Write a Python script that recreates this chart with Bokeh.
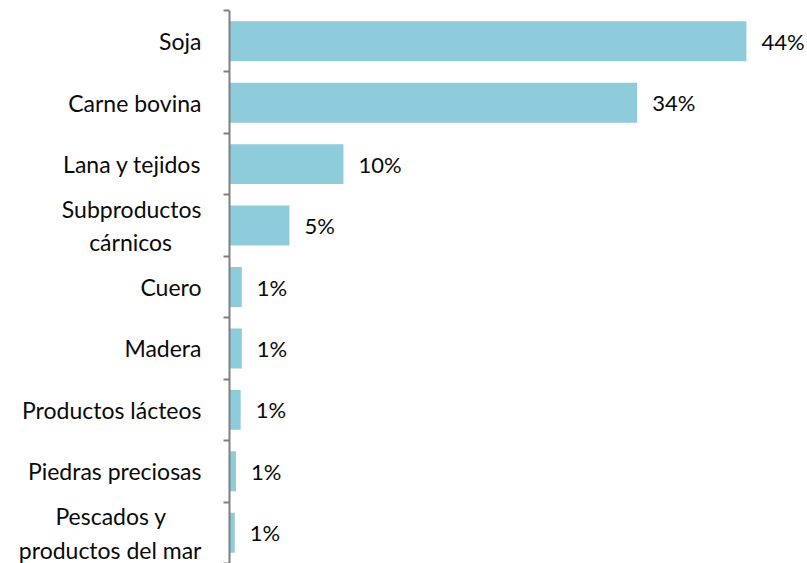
from bokeh.plotting import figure
from bokeh.models import FixedTicker, Range1d, ColumnDataSource, LabelSet
from bokeh.core.properties import value
from bokeh.embed import file_html
from bokeh.resources import INLINE

NB = "\u00a0"
categories = ["Soja", "Carne bovina", "Lana y tejidos", "Subproductos\ncárnicos" + NB * 5,
              "Cuero", "Madera", "Productos lácteos", "Piedras preciosas",
              "Pescados y" + NB * 6 + "\nproductos del mar"]
values = [44.0, 34.7, 9.7, 5.1, 1.05, 1.05, 0.95, 0.55, 0.45]
value_labels = ["44%", "34%", "10%", "5%", "1%", "1%", "1%", "1%", "1%"]

n = len(categories)
ypos = [n - i - 0.5 for i in range(n)]

FONT = "Lato"
TEXT_COLOR = "#0a0a0a"
FS = "23px"

p = figure(width=807, height=563, output_backend="svg", toolbar_location=None,
           x_range=Range1d(0, 49.2), y_range=Range1d(0, n),
           min_border_left=229, min_border_right=0, min_border_top=10, min_border_bottom=0)
p.outline_line_color = None
p.grid.visible = False
p.xaxis.visible = False

src = ColumnDataSource(dict(y=ypos, v=values, lab=value_labels))
p.hbar(y="y", left=0, right="v", height=0.65, source=src,
       fill_color="#8ECBDB", line_color=None)

labels = LabelSet(x="v", y="y", text="lab", source=src, x_offset=15,
                  text_align="left", text_baseline="middle",
                  text_font_size="22px", text_color=TEXT_COLOR, text_font=value(FONT))
p.add_layout(labels)

ax = p.yaxis[0]
ax.ticker = FixedTicker(ticks=ypos, minor_ticks=list(range(n + 1)))
ax.major_label_overrides = {y: c for y, c in zip(ypos, categories)}
ax.major_tick_out = 0
ax.major_tick_in = 0
ax.minor_tick_out = 6
ax.minor_tick_in = 0
ax.minor_tick_line_color = "#808080"
ax.minor_tick_line_width = 2
ax.axis_line_color = "#808080"
ax.axis_line_width = 2
ax.major_label_standoff = 22
ax.major_label_text_font = FONT
ax.major_label_text_font_size = FS
ax.major_label_text_color = TEXT_COLOR

open("out.html", "w").write(file_html(p, INLINE))
